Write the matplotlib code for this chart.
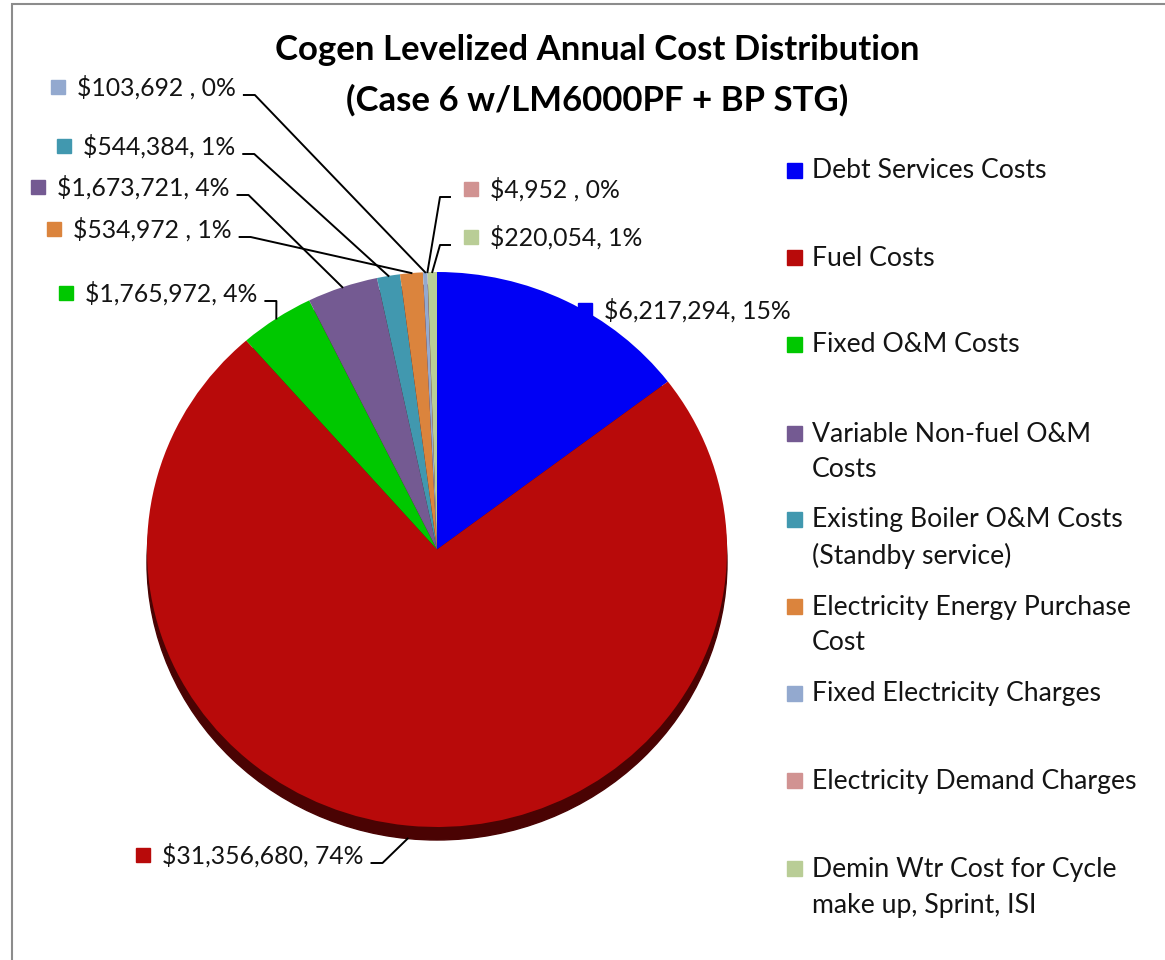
import numpy as np
import matplotlib
matplotlib.use("Agg")
import matplotlib.pyplot as plt
from matplotlib.patches import Rectangle, Ellipse
from matplotlib.lines import Line2D

# Chart data
categories = [
    "Debt Services Costs",
    "Fuel Costs",
    "Fixed O&M Costs",
    "Variable Non-fuel O&M\nCosts",
    "Existing Boiler O&M Costs\n(Standby service)",
    "Electricity Energy Purchase\nCost",
    "Fixed Electricity Charges",
    "Electricity Demand Charges",
    "Demin Wtr Cost for Cycle\nmake up, Sprint, ISI",
]
costs = [6217294, 31356680, 1765972, 1673721, 544384, 534972, 103692, 4952, 220054]
label_seps = [", ", ", ", ", ", ", ", ", ", " , ", " , ", " , ", ", "]
colors = ["#0000F5", "#B80A0A", "#00C800", "#745A92", "#4198AF",
          "#DB843D", "#93A9CF", "#D19392", "#B9CD96"]

W, H = 1165, 960
plt.rcParams["font.family"] = ["Lato", "DejaVu Sans"]

fig = plt.figure(figsize=(W / 100, H / 100), dpi=100)


def fx(x):
    return x / W


def fy(y):
    return 1 - y / H


# outer frame (only top and left edges visible)
fig.patches.append(Rectangle((fx(12), fy(H + 50)), 2, fy(4) - fy(H + 50),
                             transform=fig.transFigure, fill=False,
                             edgecolor="#8C8C8C", lw=1.5))

# title
fig.text(fx(597), fy(50), "Cogen Levelized Annual Cost Distribution",
         ha="center", va="center", fontsize=25, fontweight="bold")
fig.text(fx(597), fy(100), "(Case 6 w/LM6000PF + BP STG)",
         ha="center", va="center", fontsize=25, fontweight="bold")

# pie, slightly squashed like Excel's 3D view
ax = fig.add_axes([fx(147), fy(827), 580 / W, 555 / H])
wedges, _ = ax.pie(costs, colors=colors, startangle=90, counterclock=False,
                   radius=1, wedgeprops=dict(linewidth=0))
ax.set_aspect("auto")
ax.set_xlim(-1, 1)
ax.set_ylim(-1, 1)
for w in wedges:
    w.set_clip_on(False)
shadow = 13 / 277.5
ax.add_patch(Ellipse((0, -shadow), 2, 2, color="#4A0303", zorder=0, clip_on=False))

# data labels: text left x, center y (pixels from top-left)
label_pos = [(604, 310), (162, 855), (85, 293), (57, 187), (83, 146),
             (73, 229), (77, 87), (490, 189), (490, 237)]
right_side = [False, False, False, False, False, False, False, True, True]

total = sum(costs)
texts = []
for i, (v, sep) in enumerate(zip(costs, label_seps)):
    x, y = label_pos[i]
    pct = round(100 * v / total)
    fig.patches.append(Rectangle((fx(x - 26), fy(y + 7)), 14 / W, 14 / H,
                                 transform=fig.transFigure, color=colors[i]))
    t = fig.text(fx(x), fy(y), f"${v:,}{sep}{pct}%", ha="left", va="center",
                 fontsize=17.8, color="#141414")
    texts.append(t)

fig.canvas.draw()
renderer = fig.canvas.get_renderer()

# leader lines
for i, w in enumerate(wedges):
    if i == 0:
        continue
    x, y = label_pos[i]
    th = np.deg2rad((w.theta1 + w.theta2) / 2)
    px, py = np.cos(th), np.sin(th)
    if py < 0:
        py -= shadow
    ax_pt = ax.transData.transform((px, py))
    end = (ax_pt[0] / W, ax_pt[1] / H)
    if right_side[i]:
        x0 = x - 40
        x1 = x0 - 10
    else:
        bb = texts[i].get_window_extent(renderer)
        x0 = bb.x1 + 8
        x1 = x0 + 11
    ly = fy(y + 8)
    fig.add_artist(Line2D([fx(x0), fx(x1), end[0]], [ly, ly, end[1]],
                          transform=fig.transFigure, color="black", lw=1.4))

# legend
leg_y = [171, 258, 345, 434, 520, 607, 694, 781, 869]
for i, name in enumerate(categories):
    y = leg_y[i]
    fig.patches.append(Rectangle((fx(787), fy(y + 7)), 15 / W, 15 / H,
                                 transform=fig.transFigure, color=colors[i]))
    for k, line in enumerate(name.split("\n")):
        fig.text(fx(812), fy(y + 36 * k), line, ha="left", va="center",
                 fontsize=19.2, color="#141414")

fig.savefig("out.png", dpi=100)
